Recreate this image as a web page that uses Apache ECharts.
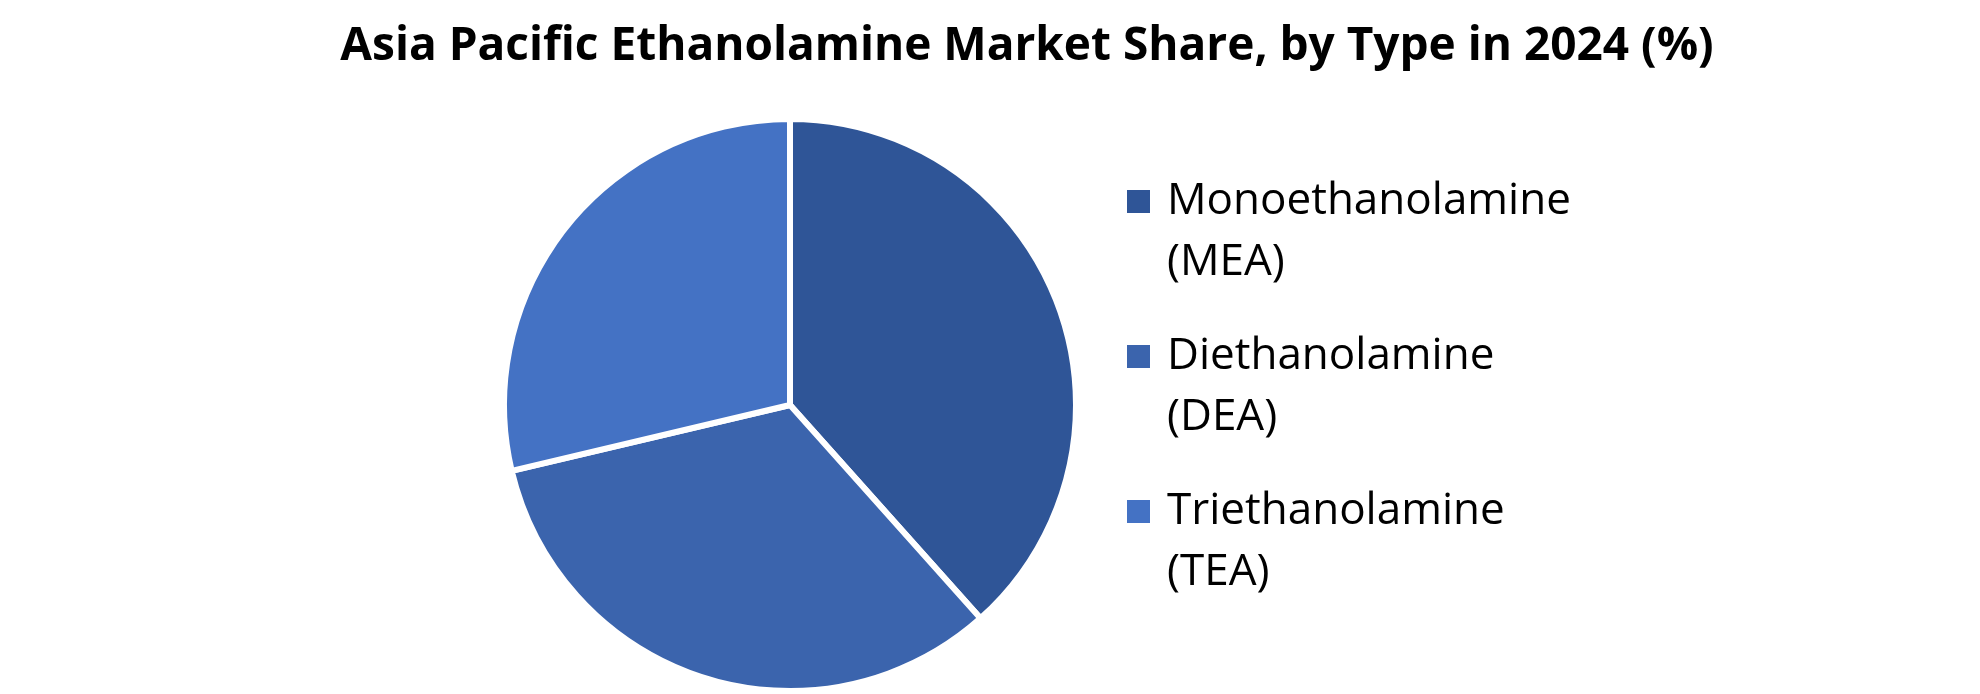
<!DOCTYPE html>
<html>
<head>
<meta charset="utf-8">
<script src="https://cdn.jsdelivr.net/npm/echarts@6/dist/echarts.min.js"></script>
<style>
html,body{margin:0;padding:0;background:#fff;}
#chart{width:1980px;height:694px;}
</style>
</head>
<body>
<div id="chart"></div>
<script>
const titleText = 'Asia Pacific Ethanolamine Market Share, by Type in 2024 (%)';
const categories = ['Monoethanolamine (MEA)', 'Diethanolamine (DEA)', 'Triethanolamine (TEA)'];
const values = [38.4, 32.9, 28.7];
const colors = ['#2F5597', '#3B64AD', '#4472C4'];

const chart = echarts.init(document.getElementById('chart'));
chart.setOption({
  backgroundColor: '#ffffff',
  animation: false,
  title: {
    text: titleText,
    left: 1022,
    textAlign: 'center',
    top: 19,
    textStyle: {
      fontFamily: 'Open Sans',
      fontWeight: 'bold',
      fontSize: 46,
      color: '#000000'
    }
  },
  legend: {
    orient: 'vertical',
    left: 1125,
    top: 110,
    padding: 0,
    itemWidth: 25,
    itemHeight: 25,
    itemGap: -28,
    icon: 'rect',
    selectedMode: false,
    formatter: function (name) { return ' \n' + name.replace(' (', '\n('); },
    textStyle: {
      fontFamily: 'Open Sans',
      fontSize: 44,
      lineHeight: 61,
      color: '#000000',
      padding: [0, 0, 0, 11]
    },
    data: categories
  },
  series: [{
    type: 'pie',
    center: [790, 405],
    radius: 286,
    startAngle: 90,
    clockwise: true,
    label: { show: false },
    labelLine: { show: false },
    emphasis: { disabled: true },
    itemStyle: { borderColor: '#ffffff', borderWidth: 6 },
    data: categories.map(function (c, i) {
      return { name: c, value: values[i], itemStyle: { color: colors[i] } };
    })
  }]
});
</script>
</body>
</html>
